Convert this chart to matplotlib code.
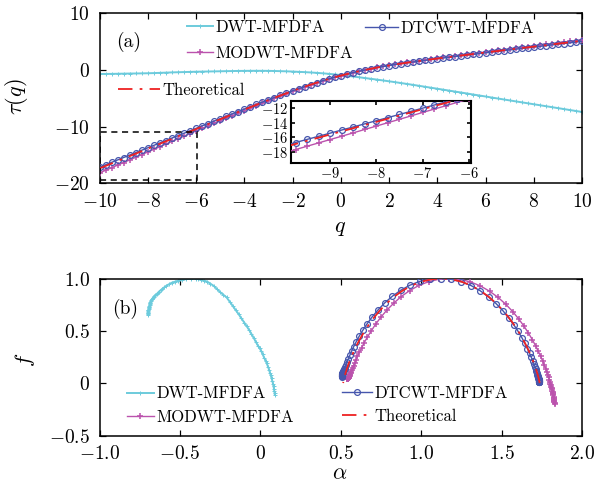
import numpy as np
import matplotlib
matplotlib.use("Agg")
import matplotlib.pyplot as plt
from matplotlib.patches import Rectangle
from matplotlib.ticker import FuncFormatter

plt.rcParams.update({
    "font.family": "serif",
    "font.serif": ["cmr10"],
    "mathtext.fontset": "cm",
    "axes.formatter.use_mathtext": True,
    "axes.unicode_minus": True,
})

# moments q (evenly spaced grid of the estimates)
q_values = np.linspace(-10, 10, 81)

# panel (a): scaling exponents tau(q)
tau_theory = [
    -17.37, -16.94, -16.50, -16.07, -15.63, -15.20, -14.77, -14.33, -13.90, -13.46,
    -13.03, -12.60, -12.16, -11.73, -11.30, -10.86, -10.43, -10.00, -9.57, -9.14,
    -8.71, -8.28, -7.85, -7.42, -7.00, -6.57, -6.15, -5.73, -5.32, -4.91,
    -4.51, -4.11, -3.72, -3.33, -2.96, -2.60, -2.25, -1.92, -1.60, -1.29,
    -1.00,
    -0.73, -0.47, -0.23, 0.00, 0.21, 0.42, 0.61, 0.79, 0.96, 1.12,
    1.28, 1.43, 1.58, 1.73, 1.87, 2.01, 2.15, 2.28, 2.42, 2.55,
    2.68, 2.82, 2.95, 3.08, 3.21, 3.34, 3.47, 3.60, 3.73, 3.86,
    3.99, 4.11, 4.24, 4.37, 4.50, 4.63, 4.76, 4.89, 5.02, 5.15]

tau_dtcwt = [
    -17.17, -16.74, -16.31, -15.88, -15.45, -15.02, -14.60, -14.17, -13.74, -13.31,
    -12.88, -12.45, -12.02, -11.59, -11.17, -10.74, -10.31, -9.88, -9.46, -9.03,
    -8.61, -8.18, -7.76, -7.34, -6.92, -6.50, -6.08, -5.67, -5.26, -4.86,
    -4.46, -4.07, -3.68, -3.30, -2.93, -2.58, -2.23, -1.90, -1.59, -1.28,
    -1.00,
    -0.73, -0.48, -0.24, -0.01, 0.20, 0.40, 0.59, 0.77, 0.94, 1.10,
    1.25, 1.40, 1.55, 1.69, 1.83, 1.97, 2.11, 2.24, 2.37, 2.50,
    2.63, 2.76, 2.89, 3.02, 3.15, 3.28, 3.40, 3.53, 3.66, 3.79,
    3.91, 4.03, 4.16, 4.29, 4.41, 4.54, 4.67, 4.79, 4.92, 5.05]

tau_modwt = [
    -18.17, -17.71, -17.25, -16.79, -16.33, -15.87, -15.41, -14.94, -14.48, -14.01,
    -13.55, -13.08, -12.61, -12.15, -11.69, -11.22, -10.76, -10.31, -9.86, -9.40,
    -8.95, -8.50, -8.06, -7.61, -7.17, -6.73, -6.29, -5.86, -5.43, -5.01,
    -4.60, -4.18, -3.78, -3.38, -3.01, -2.64, -2.28, -1.94, -1.61, -1.30,
    -1.00,
    -0.73, -0.46, -0.22, 0.02, 0.23, 0.44, 0.63, 0.82, 0.99, 1.16,
    1.32, 1.48, 1.63, 1.78, 1.93, 2.07, 2.21, 2.35, 2.49, 2.63,
    2.76, 2.90, 3.04, 3.17, 3.30, 3.44, 3.57, 3.70, 3.84, 3.97,
    4.10, 4.23, 4.37, 4.50, 4.63, 4.77, 4.90, 5.03, 5.17, 5.30]

tau_dwt = [
    -0.72, -0.70, -0.69, -0.67, -0.65, -0.63, -0.62, -0.60, -0.58, -0.55,
    -0.51, -0.47, -0.43, -0.40, -0.37, -0.34, -0.31, -0.29, -0.27, -0.25,
    -0.23, -0.21, -0.19, -0.17, -0.16, -0.15, -0.15, -0.15, -0.16, -0.18,
    -0.21, -0.24, -0.28, -0.33, -0.38, -0.44, -0.51, -0.59, -0.68, -0.78,
    -0.90,
    -1.02, -1.15, -1.28, -1.42, -1.56, -1.70, -1.85, -2.00, -2.15, -2.31,
    -2.47, -2.63, -2.80, -2.97, -3.14, -3.31, -3.48, -3.65, -3.82, -3.99,
    -4.16, -4.34, -4.51, -4.68, -4.86, -5.03, -5.20, -5.37, -5.54, -5.71,
    -5.88, -6.05, -6.22, -6.39, -6.56, -6.73, -6.90, -7.07, -7.24, -7.41]

# panel (b): singularity spectra f(alpha)
alpha_theory = [
    1.7367, 1.7366, 1.7366, 1.7365, 1.7364, 1.7362, 1.7361, 1.7358, 1.7356, 1.7353,
    1.7348, 1.7344, 1.7337, 1.7330, 1.7320, 1.7309, 1.7294, 1.7277, 1.7255, 1.7228,
    1.7195, 1.7155, 1.7105, 1.7045, 1.6971, 1.6880, 1.6771, 1.6638, 1.6478, 1.6286,
    1.6058, 1.5788, 1.5473, 1.5108, 1.4691, 1.4222, 1.3702, 1.3137, 1.2533, 1.1903,
    1.1258,
    1.0613, 0.9982, 0.9379, 0.8813, 0.8293, 0.7824, 0.7407, 0.7043, 0.6727, 0.6458,
    0.6230, 0.6038, 0.5878, 0.5745, 0.5635, 0.5545, 0.5471, 0.5410, 0.5360, 0.5320,
    0.5287, 0.5260, 0.5239, 0.5221, 0.5207, 0.5195, 0.5186, 0.5178, 0.5172, 0.5167,
    0.5163, 0.5160, 0.5157, 0.5155, 0.5153, 0.5152, 0.5151, 0.5150, 0.5149, 0.5148]

f_theory = [
    0.0029, 0.0034, 0.0042, 0.0050, 0.0061, 0.0073, 0.0088, 0.0106, 0.0128, 0.0153,
    0.0184, 0.0221, 0.0265, 0.0317, 0.0380, 0.0453, 0.0541, 0.0644, 0.0766, 0.0910,
    0.1078, 0.1275, 0.1504, 0.1769, 0.2075, 0.2424, 0.2822, 0.3270, 0.3769, 0.4320,
    0.4918, 0.5557, 0.6226, 0.6909, 0.7585, 0.8229, 0.8813, 0.9307, 0.9683, 0.9920,
    1.0000,
    0.9920, 0.9683, 0.9307, 0.8813, 0.8229, 0.7585, 0.6909, 0.6226, 0.5557, 0.4918,
    0.4320, 0.3769, 0.3270, 0.2822, 0.2424, 0.2075, 0.1769, 0.1504, 0.1275, 0.1078,
    0.0910, 0.0766, 0.0644, 0.0541, 0.0453, 0.0380, 0.0317, 0.0265, 0.0221, 0.0184,
    0.0153, 0.0128, 0.0106, 0.0088, 0.0073, 0.0061, 0.0050, 0.0042, 0.0034, 0.0029]

alpha_dtcwt = [
    1.734, 1.734, 1.734, 1.734, 1.733, 1.733, 1.733, 1.733, 1.733, 1.732,
    1.732, 1.731, 1.731, 1.730, 1.729, 1.728, 1.726, 1.725, 1.723, 1.720,
    1.717, 1.713, 1.708, 1.702, 1.694, 1.685, 1.674, 1.661, 1.645, 1.626,
    1.603, 1.576, 1.544, 1.508, 1.466, 1.419, 1.367, 1.311, 1.250, 1.187,
    1.121,
    1.053, 0.990, 0.930, 0.873, 0.821, 0.774, 0.733, 0.696, 0.665, 0.638,
    0.615, 0.596, 0.580, 0.567, 0.556, 0.547, 0.539, 0.533, 0.528, 0.524,
    0.521, 0.518, 0.516, 0.514, 0.513, 0.512, 0.511, 0.510, 0.509, 0.509,
    0.508, 0.508, 0.508, 0.508, 0.507, 0.507, 0.507, 0.507, 0.507, 0.507]

f_dtcwt = [
    0.015, 0.015, 0.016, 0.016, 0.017, 0.018, 0.019, 0.021, 0.022, 0.025,
    0.027, 0.031, 0.035, 0.040, 0.046, 0.053, 0.061, 0.071, 0.083, 0.097,
    0.114, 0.133, 0.156, 0.182, 0.212, 0.247, 0.286, 0.331, 0.381, 0.435,
    0.495, 0.558, 0.625, 0.693, 0.760, 0.824, 0.883, 0.932, 0.969, 0.992,
    1.000,
    0.994, 0.972, 0.936, 0.888, 0.831, 0.768, 0.702, 0.635, 0.570, 0.508,
    0.450, 0.396, 0.348, 0.305, 0.266, 0.233, 0.204, 0.179, 0.158, 0.140,
    0.132, 0.125, 0.118, 0.112, 0.107, 0.102, 0.098, 0.094, 0.090, 0.087,
    0.084, 0.081, 0.078, 0.076, 0.073, 0.071, 0.069, 0.067, 0.065, 0.063]

alpha_modwt = [
    1.832, 1.830, 1.829, 1.828, 1.827, 1.826, 1.824, 1.823, 1.822, 1.820,
    1.819, 1.817, 1.815, 1.813, 1.811, 1.809, 1.806, 1.804, 1.800, 1.796,
    1.792, 1.787, 1.781, 1.774, 1.765, 1.755, 1.743, 1.728, 1.711, 1.691,
    1.667, 1.639, 1.606, 1.569, 1.526, 1.478, 1.425, 1.367, 1.306, 1.241,
    1.176,
    1.111, 1.047, 0.986, 0.929, 0.876, 0.829, 0.786, 0.749, 0.717, 0.690,
    0.666, 0.646, 0.630, 0.616, 0.604, 0.595, 0.587, 0.580, 0.574, 0.570,
    0.566, 0.562, 0.560, 0.557, 0.555, 0.553, 0.552, 0.550, 0.549, 0.548,
    0.547, 0.546, 0.545, 0.544, 0.543, 0.543, 0.542, 0.541, 0.541, 0.540]

f_modwt = [
    -0.197, -0.187, -0.176, -0.166, -0.156, -0.146, -0.136, -0.126, -0.115, -0.105,
    -0.094, -0.083, -0.072, -0.059, -0.047, -0.033, -0.018, -0.002, 0.016, 0.036,
    0.058, 0.082, 0.110, 0.141, 0.176, 0.214, 0.258, 0.306, 0.359, 0.417,
    0.479, 0.546, 0.615, 0.685, 0.754, 0.820, 0.879, 0.930, 0.968, 0.992,
    1.000,
    0.993, 0.970, 0.934, 0.885, 0.828, 0.764, 0.697, 0.630, 0.564, 0.501,
    0.442, 0.388, 0.339, 0.295, 0.256, 0.222, 0.193, 0.167, 0.145, 0.126,
    0.110, 0.097, 0.086, 0.076, 0.068, 0.062, 0.057, 0.052, 0.049, 0.046,
    0.044, 0.042, 0.041, 0.040, 0.040, 0.039, 0.039, 0.039, 0.040, 0.040]

alpha_dwt = [
    0.090, 0.089, 0.087, 0.085, 0.082, 0.079, 0.075, 0.070, 0.065, 0.060,
    0.055, 0.048, 0.040, 0.033, 0.025, 0.015, 0.005, -0.005, -0.015, -0.028,
    -0.040, -0.055, -0.070, -0.085, -0.100, -0.118, -0.135, -0.153, -0.170, -0.190,
    -0.210, -0.230, -0.250, -0.270, -0.290, -0.310, -0.330, -0.350, -0.370, -0.385,
    -0.400,
    -0.430, -0.460, -0.485, -0.510, -0.530, -0.550, -0.568, -0.585, -0.598, -0.610,
    -0.620, -0.630, -0.638, -0.645, -0.653, -0.660, -0.664, -0.668, -0.672, -0.675,
    -0.678, -0.680, -0.683, -0.685, -0.686, -0.688, -0.689, -0.690, -0.691, -0.693,
    -0.694, -0.695, -0.696, -0.697, -0.697, -0.698, -0.699, -0.699, -0.700, -0.700]

f_dwt = [
    -0.110, -0.093, -0.075, -0.053, -0.030, -0.005, 0.020, 0.048, 0.075, 0.100,
    0.125, 0.158, 0.190, 0.215, 0.240, 0.275, 0.310, 0.335, 0.360, 0.395,
    0.430, 0.470, 0.510, 0.545, 0.580, 0.620, 0.660, 0.698, 0.735, 0.778,
    0.820, 0.845, 0.870, 0.900, 0.930, 0.950, 0.970, 0.980, 0.990, 0.997,
    1.000,
    0.998, 0.995, 0.988, 0.980, 0.970, 0.960, 0.945, 0.930, 0.915, 0.900,
    0.888, 0.875, 0.862, 0.850, 0.840, 0.830, 0.822, 0.815, 0.808, 0.800,
    0.792, 0.785, 0.778, 0.770, 0.762, 0.755, 0.748, 0.740, 0.732, 0.725,
    0.718, 0.710, 0.702, 0.695, 0.688, 0.680, 0.674, 0.668, 0.661, 0.655]

labels = ["DWT-MFDFA", "DTCWT-MFDFA", "MODWT-MFDFA", "Theoretical"]

# zoomed window of panel (a)
inset_xlim = (-9.85, -5.95)
inset_ylim = (-19.56, -11.03)

# styles
c_dwt = "#6ccbdc"
c_dt = "#4656ad"
c_mod = "#bb52ad"
c_th = "#ee2222"
st_dwt = dict(color=c_dwt, lw=1.4, marker="+", ms=2.5, mew=0.7, zorder=2)
st_mod = dict(color=c_mod, lw=1.0, marker="+", ms=4, mew=1.1, zorder=3)
st_dt = dict(color=c_dt, lw=1.0, marker="o", ms=4.2, mfc="none", mec=c_dt, mew=0.9, zorder=4)
st_th = dict(color=c_th, lw=1.3, ls=(0, (8, 4, 1.5, 4)), zorder=5)

W, H = 607, 484
fig = plt.figure(figsize=(W / 100, H / 100), dpi=100)


def px(x, y):
    return (x / W, 1 - y / H)


def style_axes(ax, size, pad, length, lw):
    ax.tick_params(direction="in", top=True, right=True, labelsize=size,
                   length=length, width=lw * 0.8, pad=pad)
    for s in ax.spines.values():
        s.set_linewidth(lw)


int_fmt = FuncFormatter(lambda v, _: "$%d$" % round(v))
dec_fmt = FuncFormatter(lambda v, _: "$0$" if abs(v) < 1e-9 else "$%.1f$" % v)

# ---- panel (a) ----
ax1 = fig.add_axes([99.5 / W, 1 - 183.3 / H, 482.5 / W, 170 / H])
h_dwt, = ax1.plot(q_values, tau_dwt, **st_dwt)
h_mod, = ax1.plot(q_values, tau_modwt, **st_mod)
h_dt, = ax1.plot(q_values, tau_dtcwt, **st_dt)
h_th, = ax1.plot(q_values, tau_theory, **st_th)
ax1.set_xlim(-10, 10)
ax1.set_ylim(-20, 10)
ax1.set_xticks(range(-10, 11, 2))
ax1.set_yticks([-20, -10, 0, 10])
ax1.xaxis.set_major_formatter(int_fmt)
ax1.yaxis.set_major_formatter(int_fmt)
style_axes(ax1, 14, 7, 4, 1.1)
ax1.add_patch(Rectangle((-10, -19.5), inset_xlim[1] + 10, inset_ylim[1] + 19.5,
                        fill=False, ls=(0, (4, 3)), lw=1.1, ec="black", zorder=6))
ax1.text(0.061, 0.831, "(a)", transform=ax1.transAxes, fontsize=14,
         ha="center", va="center")

leg_kw = dict(loc="center left", frameon=False, borderpad=0, borderaxespad=0,
              fontsize=12, numpoints=1, handletextpad=0.15,
              bbox_transform=fig.transFigure)
la1 = ax1.legend([h_dwt, h_mod], [labels[0], labels[2]], bbox_to_anchor=px(186.7, 40.5),
                 handlelength=1.6, labelspacing=0.65, **leg_kw)
ax1.add_artist(la1)
la2 = ax1.legend([h_dt], [labels[1]], bbox_to_anchor=px(365, 28.3),
                 handlelength=2.0, **leg_kw)
ax1.add_artist(la2)
ax1.legend([h_th], [labels[3]], bbox_to_anchor=px(118, 90),
           handlelength=2.5, **leg_kw)

# inset
axi = fig.add_axes([291 / W, 1 - 163 / H, 180 / W, 62 / H])
axi.plot(q_values, tau_modwt, **st_mod)
axi.plot(q_values, tau_dtcwt, **st_dt)
axi.plot(q_values, tau_theory, **st_th)
axi.set_xlim(*inset_xlim)
axi.set_ylim(*inset_ylim)
axi.set_xticks([-9, -8, -7, -6])
axi.set_yticks([-18, -16, -14, -12])
axi.xaxis.set_major_formatter(int_fmt)
axi.yaxis.set_major_formatter(int_fmt)
style_axes(axi, 10.5, 2, 3, 1.5)

fig.text(17 / W, 1 - 97 / H, r"$\tau(q)$", rotation=90, fontsize=16,
         ha="center", va="center")
fig.text(340 / W, 1 - 228 / H, r"$q$", fontsize=16, ha="center", va="center")

# ---- panel (b) ----
ax2 = fig.add_axes([99.5 / W, 1 - 435.7 / H, 482.5 / W, 157.2 / H])
g_dwt, = ax2.plot(alpha_dwt, f_dwt, **st_dwt)
g_mod, = ax2.plot(alpha_modwt, f_modwt, **st_mod)
g_dt, = ax2.plot(alpha_dtcwt, f_dtcwt, **st_dt)
g_th, = ax2.plot(alpha_theory, f_theory, **st_th)
ax2.set_xlim(-1.0, 2.0)
ax2.set_ylim(-0.5, 1.0)
ax2.set_xticks([-1.0, -0.5, 0, 0.5, 1.0, 1.5, 2.0])
ax2.set_yticks([-0.5, 0, 0.5, 1.0])
ax2.xaxis.set_major_formatter(dec_fmt)
ax2.yaxis.set_major_formatter(dec_fmt)
style_axes(ax2, 14, 7, 4, 1.1)
ax2.text(0.053, 0.806, "(b)", transform=ax2.transAxes, fontsize=14,
         ha="center", va="center")

lb1 = ax2.legend([g_dwt, g_mod], [labels[0], labels[2]], bbox_to_anchor=px(127, 405.5),
                 handlelength=1.6, labelspacing=0.5, **leg_kw)
ax2.add_artist(lb1)
ax2.legend([g_dt, g_th], [labels[1], labels[3]], bbox_to_anchor=px(342, 404.5),
           handlelength=1.8, labelspacing=0.45, **leg_kw)

fig.text(25 / W, 1 - 360 / H, r"$f$", rotation=90, fontsize=16,
         ha="center", va="center")
fig.text(340 / W, 1 - 473 / H, r"$\alpha$", fontsize=16, ha="center", va="center")

fig.savefig("out.png", dpi=100)
